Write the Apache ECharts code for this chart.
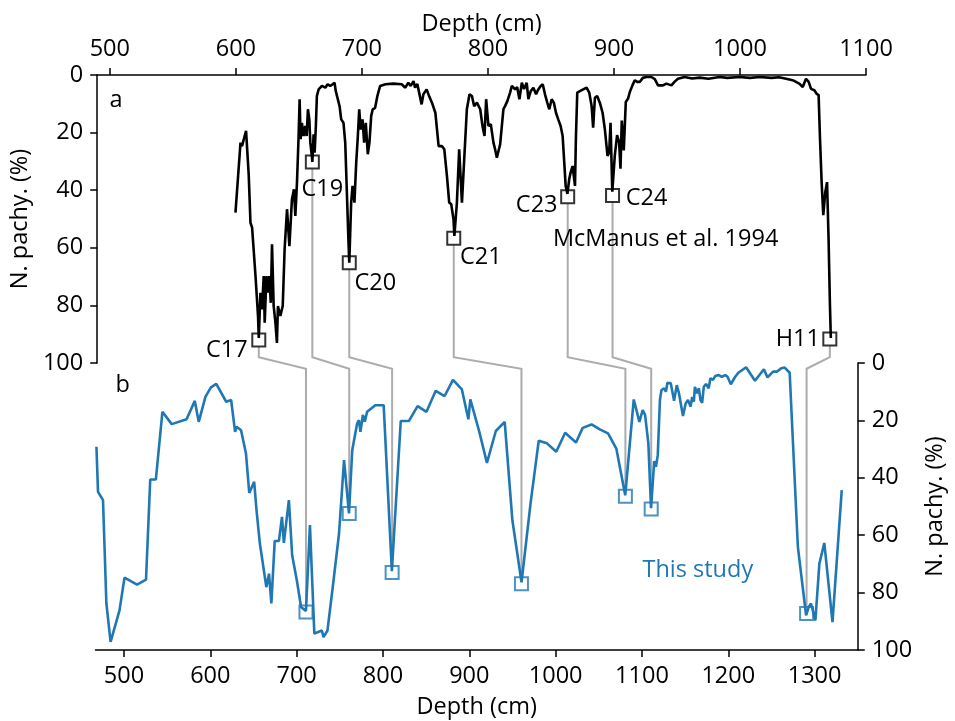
<!DOCTYPE html>
<html><head><meta charset="utf-8">
<script src="https://cdn.jsdelivr.net/npm/echarts@6/dist/echarts.min.js"></script>
<style>html,body{margin:0;padding:0;background:#fff}#c{width:955px;height:721px}</style>
</head><body><div id="c"></div>
<script>
// ---- McManus et al. 1994 (panel a) ----
const mcmDepth = [599.7,601.0,603.7,604.9,606.3,608.1,610.2,611.6,612.9,615.6,617.6,618.2,619.5,620.8,622.1,622.9,624.3,625.5,626.6,627.7,628.7,630.0,631.4,632.6,633.4,635.3,637.2,638.7,640.6,642.5,644.5,646.1,647.2,648.5,649.8,650.6,651.4,652.4,653.8,655.1,656.2,657.2,658.3,659.1,660.3,660.7,661.7,662.5,663.5,664.3,665.7,668.3,669.6,671.0,672.8,674.9,676.2,678.3,679.3,680.9,682.3,683.6,685.4,686.8,688.1,689.4,690.0,691.5,692.6,694.1,695.5,696.8,697.9,699.1,700.5,701.8,703.1,704.7,706.0,707.4,708.6,710.5,712.3,714.5,718.7,725.0,731.6,734.3,736.9,738.7,741.0,742.2,744.0,747.4,748.8,751.4,753.5,755.6,758.3,760.9,763.6,765.4,767.5,769.3,770.9,772.7,773.4,775.4,777.2,779.4,781.2,783.3,785.4,787.3,789.1,791.3,793.9,795.7,797.3,798.6,800.4,802.3,804.4,805.7,807.1,808.4,809.7,811.0,812.3,813.6,815.5,817.6,819.0,821.6,823.2,825.0,826.9,828.7,830.8,832.1,834.0,836.1,838.2,840.0,841.9,843.5,845.3,847.1,848.7,850.6,852.4,854.0,855.8,857.7,859.3,860.6,861.7,863.1,864.5,865.6,867.2,868.3,869.1,869.8,870.9,873.0,875.6,878.3,880.4,882.3,883.5,884.9,886.7,888.8,891.0,892.8,894.9,896.2,897.3,898.7,900.7,902.5,904.1,905.2,906.2,907.8,909.4,911.2,912.6,914.7,916.5,918.4,920.5,922.9,925.8,929.8,932.4,935.0,938.9,941.6,945.6,948.2,950.8,956.1,962.0,968.0,975.0,983.8,990.0,999.6,1008.0,1015.5,1025.0,1031.0,1036.6,1041.8,1047.1,1049.8,1052.4,1054.5,1056.4,1059.0,1060.8,1062.4,1063.5,1064.8,1066.1,1067.7,1069.1,1070.3,1071.4,1072.1];
const mcmValue = [47.8,48.4,23.5,24.7,22.3,19.4,34.5,51.3,53.0,69.8,83.7,91.3,75.6,81.4,69.8,86.0,69.8,75.6,69.8,79.1,58.8,80.2,86.0,93.0,80.2,83.7,80.2,60.5,46.6,59.4,43.2,39.7,48.9,37.4,21.2,8.4,22.3,16.6,21.2,17.7,21.2,11.9,15.4,23.5,28.1,30.2,20.6,27.0,17.7,7.3,5.0,3.8,3.2,4.4,3.2,3.8,3.2,2.7,5.6,8.4,10.8,15.4,16.6,23.5,40.9,58.2,65.2,44.3,38.5,44.3,30.5,21.2,11.9,18.9,15.4,23.5,16.6,27.5,23.5,14.2,11.9,11.4,7.3,3.8,3.2,3.0,3.2,4.4,2.7,3.8,2.1,4.4,3.1,10.2,6.7,5.0,7.5,9.6,13.1,24.7,24.7,25.8,35.1,44.3,44.9,50.1,55.9,44.3,25.8,44.3,29.3,11.9,6.7,7.3,10.8,9.6,11.9,17.7,21.2,8.4,17.7,17.1,23.5,25.8,28.7,26.4,24.1,23.5,11.9,10.8,9.0,6.1,3.8,5.0,4.2,8.4,2.7,4.9,2.7,8.4,5.6,4.4,6.7,5.0,3.8,3.2,6.7,9.6,11.9,8.4,9.7,13.1,15.4,17.7,21.2,30.5,38.5,41.3,36.2,33.9,31.6,31.0,38.5,22.3,6.1,5.6,5.0,4.4,6.1,10.8,18.3,7.9,7.3,9.6,13.1,18.9,28.1,27.0,16.6,40.5,27.9,20.9,23.3,32.5,15.8,26.2,9.4,8.2,5.9,3.6,1.8,2.4,2.4,1.0,0.7,0.7,1.4,3.6,3.6,3.0,3.6,2.3,1.3,0.7,1.2,0.9,1.3,0.7,1.0,0.7,1.0,0.7,1.0,0.8,1.3,1.8,3.0,4.2,1.3,2.4,4.8,5.3,6.5,7.0,22.1,37.2,48.7,40.6,37.2,56.8,80.0,91.3];

// ---- This study (panel b) ----
const studyDepth = [468.1,469.9,475.7,479.6,484.5,494.8,500.6,515.1,525.5,530.4,536.9,544.5,555.3,572.5,582.0,586.6,594.3,600.7,606.9,618.4,624.1,628.7,630.5,635.6,641.3,645.1,650.8,653.5,657.4,664.9,668.0,670.7,674.6,679.5,683.0,685.2,691.0,694.8,700.2,705.1,710.8,715.4,720.5,729.2,731.1,735.7,742.3,749.1,754.9,760.6,764.4,770.1,772.1,773.9,776.7,779.0,781.6,791.1,800.8,810.3,820.6,830.1,840.1,850.4,861.1,871.4,881.1,891.4,898.9,901.2,911.6,920.4,930.7,941.0,949.9,960.5,970.9,980.4,990.0,1000.7,1011.0,1023.6,1031.3,1041.6,1051.2,1060.7,1070.3,1080.6,1090.5,1097.0,1100.8,1103.6,1107.4,1110.5,1114.2,1116.2,1118.3,1120.8,1122.6,1125.7,1127.7,1129.5,1133.4,1137.2,1140.3,1142.9,1144.9,1147.5,1150.6,1153.3,1156.3,1158.2,1160.1,1161.3,1163.9,1165.9,1167.8,1169.7,1171.6,1174.2,1177.3,1179.3,1182.3,1185.0,1188.8,1192.6,1196.5,1199.1,1202.9,1208.0,1211.7,1220.6,1230.9,1241.2,1245.4,1251.9,1256.5,1261.4,1265.3,1271.1,1280.6,1290.1,1293.2,1295.8,1300.9,1305.5,1311.2,1320.7,1331.4];
const studyValue = [29.2,44.9,47.8,83.8,97.2,86.2,74.8,77.2,75.5,40.6,40.6,17.0,21.3,19.6,13.2,20.5,11.8,8.5,7.3,13.5,12.9,24.0,22.2,23.4,31.5,45.3,41.4,51.3,62.9,78.1,73.4,83.8,62.0,62.0,53.6,62.7,47.8,67.0,75.7,85.0,86.4,56.5,94.3,93.2,95.5,93.2,76.9,59.4,33.8,52.4,30.4,21.0,19.9,24.0,18.1,20.5,17.0,14.7,14.7,72.5,20.2,20.2,15.0,17.0,9.7,11.5,5.9,9.2,19.6,12.7,24.0,34.8,23.7,20.5,54.8,76.4,49.0,27.1,28.0,30.9,24.3,27.7,22.6,21.4,23.1,24.5,29.8,46.1,12.7,20.5,16.4,18.1,28.0,50.6,34.2,36.2,32.1,12.9,9.4,8.8,10.0,6.9,7.1,13.2,7.7,10.6,10.0,18.5,14.1,12.9,15.2,11.8,13.5,8.3,10.6,8.8,12.9,13.9,8.3,7.3,8.8,5.3,5.9,4.5,4.2,4.8,4.2,4.8,7.4,4.8,3.4,1.5,6.2,2.2,5.0,3.0,3.0,1.8,1.6,3.4,64.1,87.9,85.0,83.8,89.7,69.9,62.7,90.3,44.3];

// ---- tie points ----
const eventNames = ['C17','C19','C20','C21','C23','C24','H11'];
const mcmEventDepth = [618.2,660.7,690.0,772.9,863.3,898.9,1071.3];
const mcmEventValue = [92.0,30.2,65.2,56.7,42.3,41.8,91.7];
const studyEventDepth = [710.8,760.9,810.6,960.4,1080.8,1110.7,1290.7];
const studyEventValue = [86.8,52.4,73.0,76.9,46.4,50.9,87.3];

// ---- ticks ----
const topTicks = [500,600,700,800,900,1000,1100];
const bottomTicks = [500,600,700,800,900,1000,1100,1200,1300];

// label placement (style, pixel offsets from marker centre)
const eventLabelOffsets = [[-32,10],[10,27],[26,21],[27,19],[-31,8],[34,3],[-32,0]];

const FONT = 'Open Sans';
const FS = 23.5;
const BLUE = '#1f77b4';

const chart = echarts.init(document.getElementById('c'), null, {renderer:'canvas'});

function pairs(a,b){ return a.map((v,i)=>[v,b[i]]); }
const plain = v => String(v);

const axisLineStyle = {color:'#000', width:1.5};
function xAx(grid, pos, min, max, ticks, nameGap){
  return {type:'value', gridIndex:grid, position:pos, min:min, max:max,
    name:'Depth (cm)', nameLocation:'middle', nameGap:nameGap,
    nameTextStyle:{fontFamily:FONT, fontSize:FS, color:'#000'},
    axisLine:{show:true, onZero:false, lineStyle:axisLineStyle},
    axisTick:{show:true, customValues:ticks, length:7, lineStyle:axisLineStyle},
    axisLabel:{customValues:ticks, formatter:plain, fontFamily:FONT, fontSize:FS, color:'#000', margin:14},
    splitLine:{show:false}};
}
function yAx(grid, pos, nameGap){
  return {type:'value', gridIndex:grid, position:pos, min:0, max:100, interval:20, inverse:true,
    name:'N. pachy. (%)', nameLocation:'middle', nameGap:nameGap, nameRotate:90,
    nameTextStyle:{fontFamily:FONT, fontSize:FS, color:'#000'},
    axisLine:{show:true, onZero:false, lineStyle:axisLineStyle},
    axisTick:{show:true, length:7, lineStyle:axisLineStyle},
    axisLabel:{formatter:plain, fontFamily:FONT, fontSize:FS, color:'#000', margin:14},
    splitLine:{show:false}};
}

chart.setOption({
  animation:false,
  backgroundColor:'#fff',
  grid:[{left:95.5, right:89, top:75, height:288},
        {left:95.5, right:89, top:363, height:287}],
  xAxis:[xAx(0,'top',490,1100,topTicks,39), xAx(1,'bottom',467,1350,bottomTicks,45)],
  yAxis:[yAx(0,'left',61), yAx(1,'right',63)],
  series:[
    {type:'line', xAxisIndex:0, yAxisIndex:0, data:pairs(mcmDepth,mcmValue), showSymbol:false,
     lineStyle:{color:'#000', width:2.6}, z:3},
    {type:'scatter', xAxisIndex:0, yAxisIndex:0, data:pairs(mcmEventDepth,mcmEventValue), symbol:'rect', symbolSize:13,
     itemStyle:{color:'rgba(0,0,0,0)', borderColor:'#000', borderWidth:2}, z:4},
    {type:'line', xAxisIndex:1, yAxisIndex:1, data:pairs(studyDepth,studyValue), showSymbol:false,
     lineStyle:{color:BLUE, width:2.6}, z:3},
    {type:'scatter', xAxisIndex:1, yAxisIndex:1, data:pairs(studyEventDepth,studyEventValue), symbol:'rect', symbolSize:13,
     itemStyle:{color:'rgba(255,255,255,0)', borderColor:BLUE, borderWidth:2}, z:4}
  ]
});

// connectors and annotations computed through the axes' scales
const g = [];
function txtAt(str, p, color){
  return {type:'text', silent:true, z:5, x:p[0], y:p[1],
    style:{text:str, fill:color, font:FS+'px "'+FONT+'"', align:'center', verticalAlign:'middle'}};
}
for (let i=0;i<eventNames.length;i++){
  const p1 = chart.convertToPixel({gridIndex:0},[mcmEventDepth[i], mcmEventValue[i]]);
  const p2 = chart.convertToPixel({gridIndex:0},[mcmEventDepth[i], 98]);
  const p3 = chart.convertToPixel({gridIndex:1},[studyEventDepth[i], 2]);
  const p4 = chart.convertToPixel({gridIndex:1},[studyEventDepth[i], studyEventValue[i]]);
  g.push(txtAt(eventNames[i], [p1[0]+eventLabelOffsets[i][0], p1[1]+eventLabelOffsets[i][1]], '#000'));
  const a = [p1[0], p1[1]+7], b = [p4[0], p4[1]-7];
  g.push({type:'polyline', silent:true, z:1, shape:{points:[a,p2,p3,b]},
          style:{stroke:'#acacac', lineWidth:2, fill:null}});
}
function txt(str, grid, d, v, color){
  return txtAt(str, chart.convertToPixel({gridIndex:grid},[d,v]), color);
}
g.push(txt('a',0,505,8.7,'#000'));
g.push(txt('b',1,498.6,7.7,'#000'));
g.push(txt('McManus et al. 1994',0,941,57,'#000'));
g.push(txt('This study',1,1164.7,72.2,BLUE));
chart.setOption({graphic:g});
</script></body></html>
